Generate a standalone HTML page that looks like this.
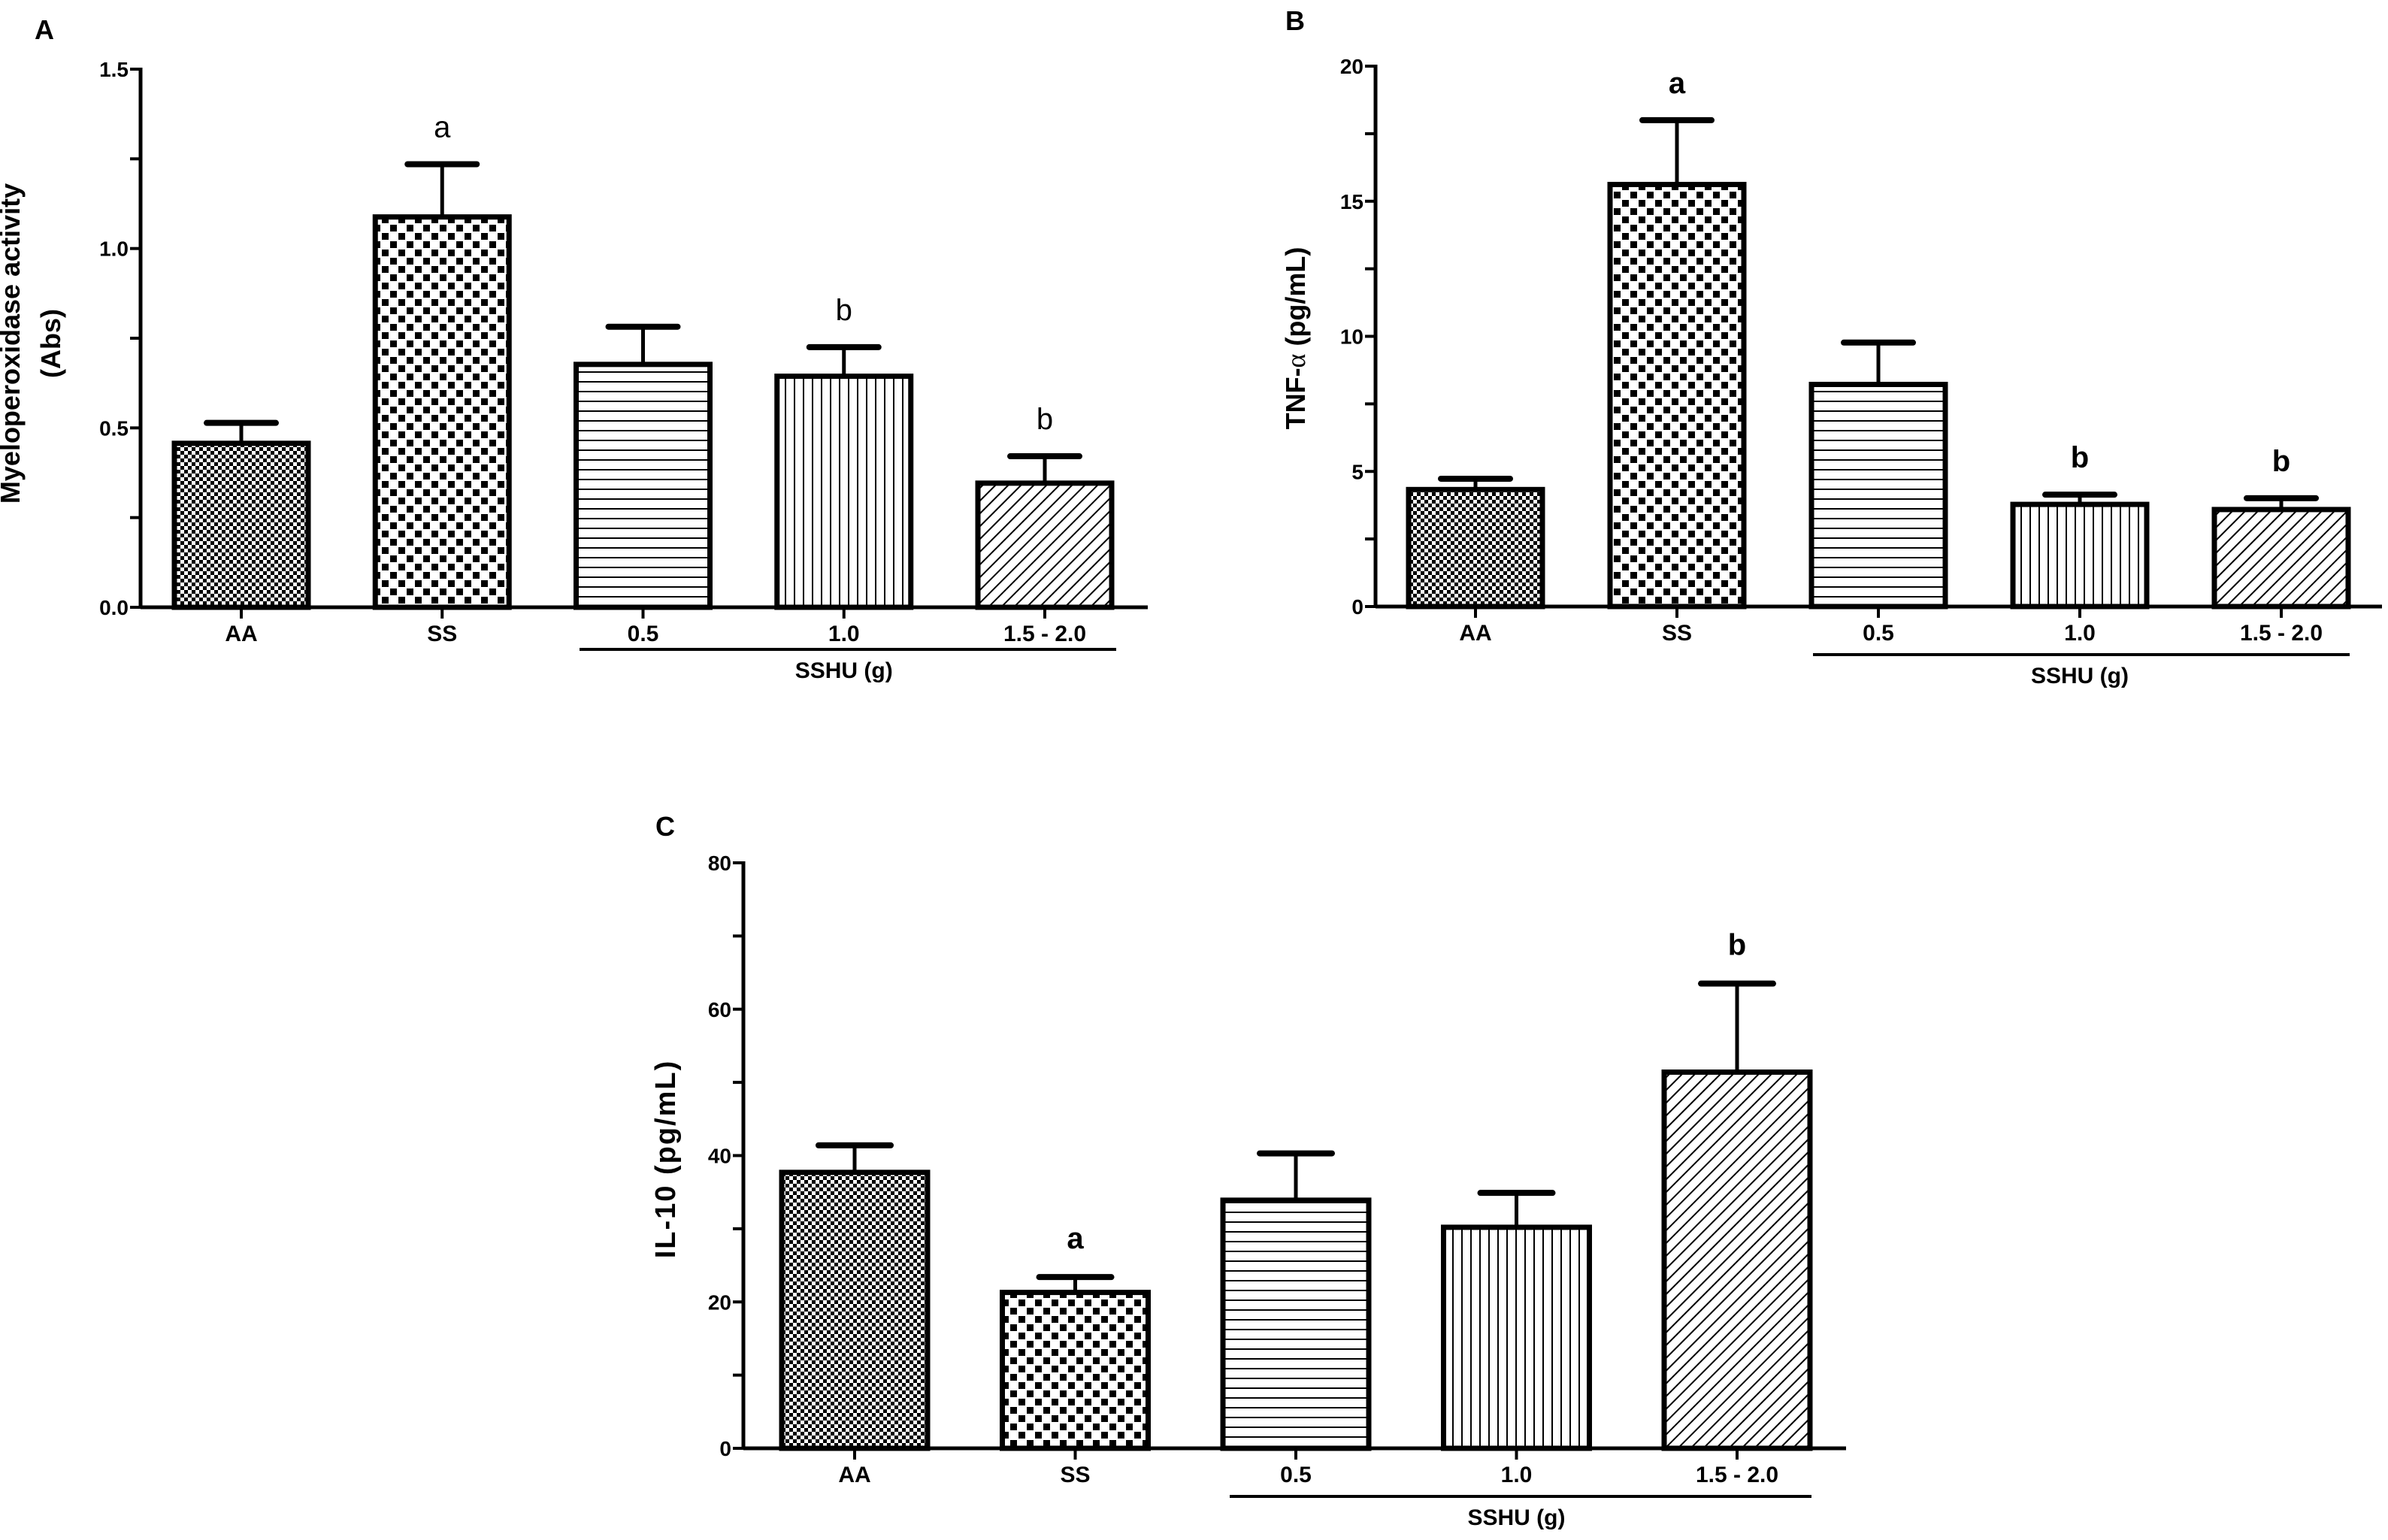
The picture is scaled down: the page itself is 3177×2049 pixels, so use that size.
<!DOCTYPE html>
<html><head><meta charset="utf-8"><style>
html,body{margin:0;padding:0;background:#fff;}
svg{display:block;}
text{font-family:"Liberation Sans",Arial,sans-serif;fill:#000;}
</style></head>
<body>
<svg id="fig" width="3177" height="2049" viewBox="0 0 3177 2049" xmlns="http://www.w3.org/2000/svg">
<defs>
<pattern id="pFine" width="10" height="10" patternUnits="userSpaceOnUse"><rect width="10" height="10" fill="#fff"/><rect width="5" height="5" fill="#000"/><rect x="5" y="5" width="5" height="5" fill="#000"/></pattern>
<pattern id="pCoarse" width="22" height="22" patternUnits="userSpaceOnUse"><rect width="22" height="22" fill="#fff"/><rect x="2" y="2" width="9" height="9" fill="#000"/><rect x="13" y="13" width="9" height="9" fill="#000"/></pattern>
<pattern id="pHoriz" width="10" height="13" patternUnits="userSpaceOnUse"><rect width="10" height="13" fill="#fff"/><rect y="0" width="10" height="2" fill="#000"/></pattern>
<pattern id="pVert" width="12" height="10" patternUnits="userSpaceOnUse"><rect width="12" height="10" fill="#fff"/><rect x="0" width="2" height="10" fill="#000"/></pattern>
<pattern id="pDiag" width="12" height="12" patternUnits="userSpaceOnUse" patternTransform="rotate(45)"><rect width="12" height="12" fill="#fff"/><rect width="2" height="12" fill="#000"/></pattern>
</defs>
</svg>
<script>
// ----- data -----
const categories = ["AA","SS","0.5","1.0","1.5 - 2.0"];
const mpoValues = [0.457, 1.088, 0.677, 0.644, 0.346];
const mpoErrors = [0.514, 1.235, 0.782, 0.725, 0.421];
const mpoLetters = ["", "a", "", "b", "b"];
const mpoTicks = ["0.0","0.5","1.0","1.5"];
const tnfValues = [4.33, 15.62, 8.22, 3.78, 3.59];
const tnfErrors = [4.73, 18.0, 9.77, 4.14, 4.01];
const tnfLetters = ["", "a", "", "b", "b"];
const tnfTicks = ["0","5","10","15","20"];
const il10Values = [37.7, 21.3, 33.9, 30.2, 51.4];
const il10Errors = [41.4, 23.4, 40.3, 34.9, 63.5];
const il10Letters = ["", "a", "", "", "b"];
const il10Ticks = ["0","20","40","60","80"];
const fills = ["url(#pFine)","url(#pCoarse)","url(#pHoriz)","url(#pVert)","url(#pDiag)"];

const svg = document.getElementById('fig');
const NS = "http://www.w3.org/2000/svg";
function mk(tag, attrs, parent){
  const e = document.createElementNS(NS, tag);
  for (const k in attrs) e.setAttribute(k, attrs[k]);
  (parent||svg).appendChild(e);
  return e;
}
function txt(s, attrs, parent){ const t = mk('text', attrs, parent); t.textContent = s; return t; }

function panel(cfg){
  const g = mk('g', {});
  
  
  const yMax = cfg.yMax;
  const y = v => cfg.y0 - (v / yMax) * (cfg.y0 - cfg.yTop);
  const x = i => cfg.x0 + cfg.step * i;
  // panel letter
  const pl = txt(cfg.letter, {x:cfg.letterX, y:cfg.letterY, 'font-size':36, 'font-weight':'bold'}, g);
  
  
  // bars
  cfg.values.forEach((v,i)=>{
    const cx = x(i), bw = cfg.bw;
    const b = mk('rect', {x:cx-bw/2, y:y(v), width:bw, height:cfg.y0-y(v), fill:fills[i], stroke:'#000', 'stroke-width':7}, g);
    
    
    const ev = cfg.errors[i];
    const el = mk('line', {x1:cx, x2:cx, y1:y(v)-3, y2:y(ev), stroke:'#000', 'stroke-width':5}, g);
    
    
    const ec = mk('line', {x1:cx-cfg.cap/2, x2:cx+cfg.cap/2, y1:y(ev), y2:y(ev), stroke:'#000', 'stroke-width':8, 'stroke-linecap':'round'}, g);
    
    
    if (cfg.letters[i]) {
      const lt = txt(cfg.letters[i], {x:cx, y:y(ev)-cfg.letterGap, 'font-size':40, 'font-weight':cfg.sigBold?'bold':'normal', 'text-anchor':'middle'}, g);
      
      
    }
    const tk = mk('line', {x1:cx, x2:cx, y1:cfg.y0, y2:cfg.y0+15, stroke:'#000', 'stroke-width':4}, g);
    
    
    const tl = txt(categories[i], {x:cx, y:cfg.y0+45, 'font-size':30, 'font-weight':'bold', 'text-anchor':'middle'}, g);
    
    
  });
  // axes
  const ya = mk('line', {x1:cfg.axisX, x2:cfg.axisX, y1:cfg.yTop-2, y2:cfg.y0+2, stroke:'#000', 'stroke-width':5}, g);
  
  
  const xa = mk('line', {x1:cfg.axisX, x2:cfg.axisEnd, y1:cfg.y0, y2:cfg.y0, stroke:'#000', 'stroke-width':5}, g);
  
  
  const n = cfg.ticks.length - 1;
  for (let k = 0; k <= n*2; k++){
    const v = yMax * k / (n*2);
    mk('line', {x1:cfg.axisX-14, x2:cfg.axisX, y1:y(v), y2:y(v), stroke:'#000', 'stroke-width':4}, g);
    if (k % 2 === 0) {
      const t = txt(cfg.ticks[k/2], {x:cfg.axisX-16, y:y(v)+10, 'font-size':28, 'font-weight':'bold', 'text-anchor':'end'}, g);
      
      
    }
  }
  // group underline
  const ul = mk('line', {x1:cfg.ulX1, x2:cfg.ulX2, y1:cfg.ulY, y2:cfg.ulY, stroke:'#000', 'stroke-width':4}, g);
  
  
  const gl = txt('SSHU (g)', {x:x(3), y:cfg.ulY+38, 'font-size':30, 'font-weight':'bold', 'text-anchor':'middle'}, g);
  
  
  // y label
  const yl = mk('text', {transform:`translate(${cfg.ylX},${cfg.ylY}) rotate(-90)`, 'font-size':cfg.ylSize, 'font-weight':'bold', 'text-anchor':'middle'}, g);
  
  
  cfg.ylabel(yl);
}

panel({name:'panel-a-mpo', letter:'A', letterX:46, letterY:52, values:mpoValues, errors:mpoErrors, letters:mpoLetters, ticks:mpoTicks,
  yMax:1.5, y0:808, yTop:92, x0:321, step:267.25, bw:178, cap:92, axisX:187, axisEnd:1527, sigBold:false, letterGap:36,
  ulX1:771, ulX2:1485, ulY:864, ylX:0, ylY:457, ylSize:36,
  ylabel: t => {
    const a = document.createElementNS(NS,'tspan'); a.setAttribute('x',0); a.setAttribute('y',-148); a.textContent='Myeloperoxidase activity'; t.appendChild(a);
    const b = document.createElementNS(NS,'tspan'); b.setAttribute('x',0); b.setAttribute('y',-94); b.textContent='(Abs)'; t.appendChild(b);
    t.setAttribute('transform','translate(174,457) rotate(-90)');
  }});

panel({name:'panel-b-tnf', letter:'B', letterX:1710, letterY:40, values:tnfValues, errors:tnfErrors, letters:tnfLetters, ticks:tnfTicks,
  yMax:20, y0:807, yTop:88, x0:1963, step:268, bw:178, cap:92, axisX:1830, axisEnd:3169, sigBold:true, letterGap:36,
  ulX1:2412, ulX2:3126, ulY:871, ylX:1736, ylY:450, ylSize:36,
  ylabel: t => {
    t.appendChild(document.createTextNode('TNF-'));
    const a = document.createElementNS(NS,'tspan'); a.setAttribute('font-family','"Liberation Serif",serif'); a.setAttribute('font-weight','normal'); a.textContent='α'; t.appendChild(a);
    t.appendChild(document.createTextNode('  (pg/mL)'));
  }});

panel({name:'panel-c-il10', letter:'C', letterX:872, letterY:1112, values:il10Values, errors:il10Errors, letters:il10Letters, ticks:il10Ticks,
  yMax:80, y0:1927, yTop:1148, x0:1137, step:293.5, bw:194, cap:96, axisX:989, axisEnd:2456, sigBold:true, letterGap:38,
  ulX1:1636, ulX2:2410, ulY:1991, ylX:898, ylY:1542, ylSize:38,
  ylabel: t => { t.textContent = 'IL-10 (pg/mL)'; t.setAttribute('letter-spacing','2'); }});
</script>
</body></html>
